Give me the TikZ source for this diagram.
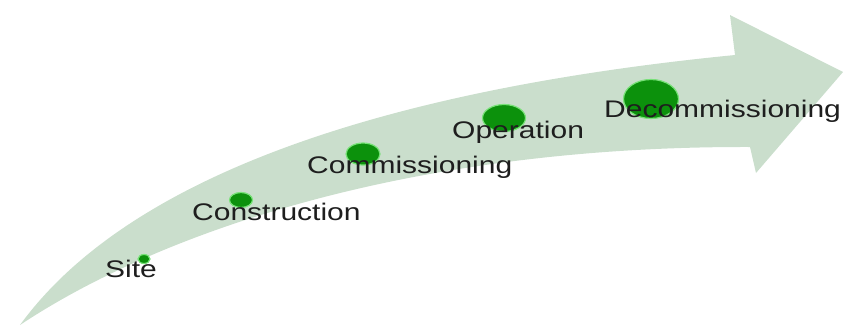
\documentclass[tikz,border=0pt]{standalone}
\usepackage{fontspec}
\setmainfont{Liberation Sans}
\usetikzlibrary{shapes.geometric}
\definecolor{bandfill}{RGB}{202,222,204}
\definecolor{dotfill}{RGB}{12,145,12}
\definecolor{dotrim}{RGB}{120,225,120}
\definecolor{labelcol}{RGB}{30,30,30}
\tikzset{
  dotnode/.style={ellipse, fill=dotfill, draw=dotrim, line width=1.2pt, inner sep=0pt},
  stagelabel/.style={anchor=base west, inner sep=0pt, text=labelcol,
    font=\fontsize{24}{28}\selectfont},
}
\newcommand{\wide}[1]{\scalebox{1.25}[1]{#1}}
\begin{document}
\begin{tikzpicture}[x=1pt,y=-1pt]
\useasboundingbox (0,0) rectangle (843,327);
% arrow body
\coordinate (tail) at (20,325);
\coordinate (un) at (735,55);
\coordinate (tc) at (730,15);
\coordinate (tip) at (843,72);
\coordinate (bc) at (756,173);
\coordinate (ln) at (750,147);
\fill[bandfill] (tail) .. controls (140,160) and (430,85) .. (un)
  -- (tc) -- (tip) -- (bc) -- (ln)
  .. controls (410,146) and (160,232) .. (tail) -- cycle;
% dots
\node[dotnode, minimum width=12pt, minimum height=9pt] (d1) at (144,259) {};
\node[dotnode, minimum width=23pt, minimum height=15pt] (d2) at (241,200) {};
\node[dotnode, minimum width=34pt, minimum height=22pt] (d3) at (363,154) {};
\node[dotnode, minimum width=43pt, minimum height=27pt] (d4) at (504,118) {};
\node[dotnode, minimum width=55pt, minimum height=39pt] (d5) at (651,99) {};
% labels
\node[stagelabel] (l1) at (105,277) {\wide{Site}};
\node[stagelabel] (l2) at (192,220) {\wide{Construction}};
\node[stagelabel] (l3) at (307,173) {\wide{Commissioning}};
\node[stagelabel] (l4) at (452,138) {\wide{Operation}};
\node[stagelabel] (l5) at (604,117) {\wide{Decommissioning}};
\end{tikzpicture}
\end{document}
